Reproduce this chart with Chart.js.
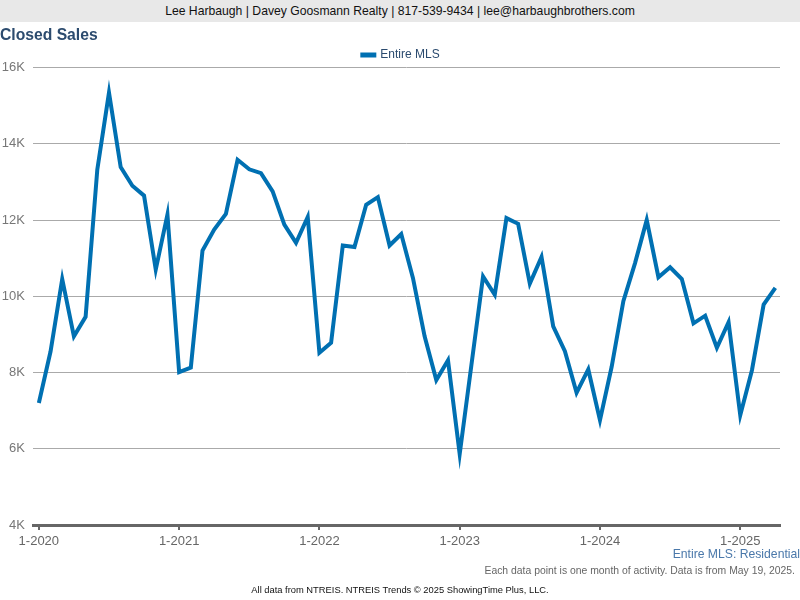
<!DOCTYPE html>
<html>
<head>
<meta charset="utf-8">
<script src="https://cdn.jsdelivr.net/npm/chart.js@4"></script>
<style>
  body { margin: 0; width: 800px; height: 600px; position: relative; background: #fff; font-family: "Liberation Sans", Arial, sans-serif; overflow: hidden; }
  #header { position: absolute; left: 0; top: 0; width: 800px; height: 22px; background: #e8e8e8; text-align: center; font-size: 12.2px; line-height: 23px; color: #111; }
  #title { position: absolute; left: 0; top: 26px; font-size: 15.7px; font-weight: bold; color: #2c4b6e; }
  #wrap { position: absolute; left: 0; top: 0; width: 800px; height: 600px; }
  .note { position: absolute; right: 0; white-space: nowrap; }
  #src { top: 547px; font-size: 12.2px; color: #4a78aa; }
  #each { top: 565px; right: 5px; font-size: 10.4px; color: #666; }
  #foot { position: absolute; top: 585px; left: 0; width: 800px; text-align: center; font-size: 9.35px; color: #111; }
</style>
</head>
<body>
<div id="wrap"><canvas id="myChart" width="800" height="600"></canvas></div>
<div id="header">Lee Harbaugh | Davey Goosmann Realty | 817-539-9434 | lee@harbaughbrothers.com</div>
<div id="title">Closed Sales</div>
<div class="note" id="src">Entire MLS: Residential</div>
<div class="note" id="each">Each data point is one month of activity. Data is from May 19, 2025.</div>
<div id="foot">All data from NTREIS. NTREIS Trends © 2025 ShowingTime Plus, LLC.</div>
<script>
// monthly closed sales, Jan 2020 .. Apr 2025
const closed2020 = [7200, 8550, 10450, 8950, 9460, 13320, 15340, 13390, 12900, 12640, 10700, 12140];
const closed2021 = [8010, 8130, 11200, 11750, 12160, 13580, 13330, 13230, 12750, 11880, 11400, 12080];
const closed2022 = [8520, 8780, 11330, 11290, 12400, 12600, 11330, 11630, 10480, 8950, 7800, 8320];
const closed2023 = [5860, 8190, 10520, 10040, 12050, 11900, 10330, 11030, 9210, 8560, 7470, 8080];
const closed2024 = [6750, 8150, 9870, 10870, 12000, 10500, 10760, 10450, 9290, 9490, 8650, 9320];
const closed2025 = [6880, 8060, 9780, 10220];

const tickLabels = ["1-2020", "1-2021", "1-2022", "1-2023", "1-2024", "1-2025"];
const yTicks = [4000, 6000, 8000, 10000, 12000, 14000, 16000];

const entireMLS = [].concat(closed2020, closed2021, closed2022, closed2023, closed2024, closed2025);
const points = entireMLS.map((v, i) => ({ x: i, y: v }));

const font = "'Liberation Sans', Arial, sans-serif";

// nudge the legend: centred on the page, a bit closer to the plot
const shiftLegend = {
  id: "shiftLegend",
  afterLayout(chart) {
    if (chart.legend) {
      chart.legend.left += 11;
      chart.legend.right += 11;
      chart.legend.top += 3.5;
      chart.legend.bottom += 3.5;
    }
  },
};

new Chart("myChart", {
  type: "line",
  data: {
    datasets: [
      {
        label: "Entire MLS",
        data: points,
        borderColor: "#0070b2",
        backgroundColor: "#0070b2",
        borderWidth: 4,
        pointRadius: 0,
        tension: 0,
      },
    ],
  },
  plugins: [shiftLegend],
  options: {
    responsive: false,
    animation: false,
    layout: { padding: { top: 43.5, bottom: 45, left: 0, right: 20 } },
    plugins: {
      tooltip: { enabled: false },
      legend: {
        labels: {
          boxWidth: 12,
          boxHeight: 1,
          padding: 2,
          color: "#2a4a6e",
          font: { family: font, size: 12 },
        },
      },
    },
    scales: {
      x: {
        type: "linear",
        min: -0.5,
        max: 63.4,
        afterBuildTicks: (s) => {
          s.ticks = tickLabels.map((t, i) => ({ value: i * 12 }));
        },
        afterFit: (s) => { s.height = 30; },
        ticks: {
          callback: (v) => tickLabels[v / 12],
          color: "#666",
          font: { family: font, size: 13 },
          padding: 4,
          maxRotation: 0,
        },
        grid: { drawOnChartArea: false, color: "#666", tickLength: 5, lineWidth: 2 },
        border: { display: true, color: "#666", width: 3 },
      },
      y: {
        min: 4000,
        max: 16000,
        afterBuildTicks: (s) => {
          s.ticks = yTicks.map((v) => ({ value: v }));
        },
        afterFit: (s) => { s.width = 33; },
        ticks: {
          callback: (v) => v / 1000 + "K",
          color: "#777",
          font: { family: font, size: 13 },
          padding: 8,
        },
        grid: { color: "#aaa", drawTicks: false },
        border: { display: false },
      },
    },
  },
});
</script>
</body>
</html>
